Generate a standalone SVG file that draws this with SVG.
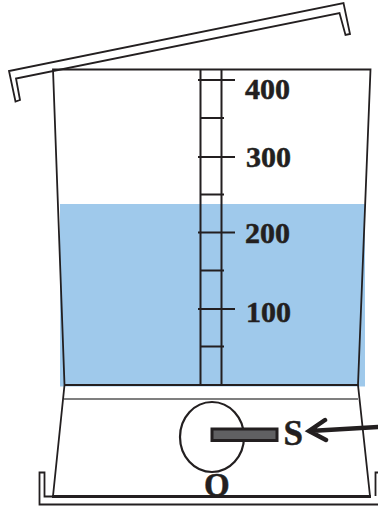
<svg xmlns="http://www.w3.org/2000/svg" width="378" height="506" viewBox="0 0 378 506">
<style>
.l{fill:none;stroke:#231f20;stroke-width:1.800}
.m{fill:none;stroke:#231f20;stroke-width:2}
.t{font-family:"Liberation Serif","Times New Roman",serif;font-weight:bold;font-size:30px;fill:#231f20;stroke:#231f20;stroke-width:.5}
</style>
<rect id="water" x="60" y="204" width="305" height="182.500" fill="#9fc9eb"/>
<g id="lid"><path class="l" d="M15.500 101.500L9 71L343.500 3L350 34L345.500 35L339.500 13L16 78.500L20 100Z"/></g>
<g id="beaker">
<path class="l" d="M64.500 385L53 69.500H370.500L358 385"/>
<path d="M64 385H358.500" fill="none" stroke="#231f20" stroke-width="2"/>
</g>
<g id="ruler">
<path class="m" d="M200.500 69.500V385M221.500 69.500V385"/>
<path class="l" d="M198 80H235M198 157H235M198 232.500H235M198 309H235M200 118H224M200 194.500H224M200 270.500H224M200 346.500H224"/>
</g>
<g id="labels">
<text class="t" x="245" y="99">400</text>
<text class="t" x="246" y="167">300</text>
<text class="t" x="245" y="243">200</text>
<text class="t" x="246" y="322">100</text>
</g>
<g id="base">
<path class="l" d="M64.500 385L53 496M358 385L370 496"/>
<path d="M64 399H358" fill="none" stroke="#555" stroke-width="1.600"/>
<path d="M52 496.500H371" fill="none" stroke="#231f20" stroke-width="3"/>
</g>
<g id="tray"><path class="l" d="M52 496.500H44.500V472.500H39.500V504.500H378M378 472.500H375.500V496"/></g>
<g id="valve">
<ellipse cx="212" cy="437" rx="32" ry="35" fill="none" stroke="#231f20" stroke-width="2.200"/>
<rect x="212" y="429" width="65" height="11.500" fill="#606062" stroke="#231f20" stroke-width="3"/>
</g>
<text class="t" x="283.500" y="445" style="font-size:35px">S</text>
<text class="t" x="204" y="496" style="font-size:33px">O</text>
<g id="connectors">
<path d="M378 427L310 431M325 420L309 431L326 440" fill="none" stroke="#231f20" stroke-width="4.500" stroke-linecap="round" stroke-linejoin="miter"/>
</g>
</svg>
